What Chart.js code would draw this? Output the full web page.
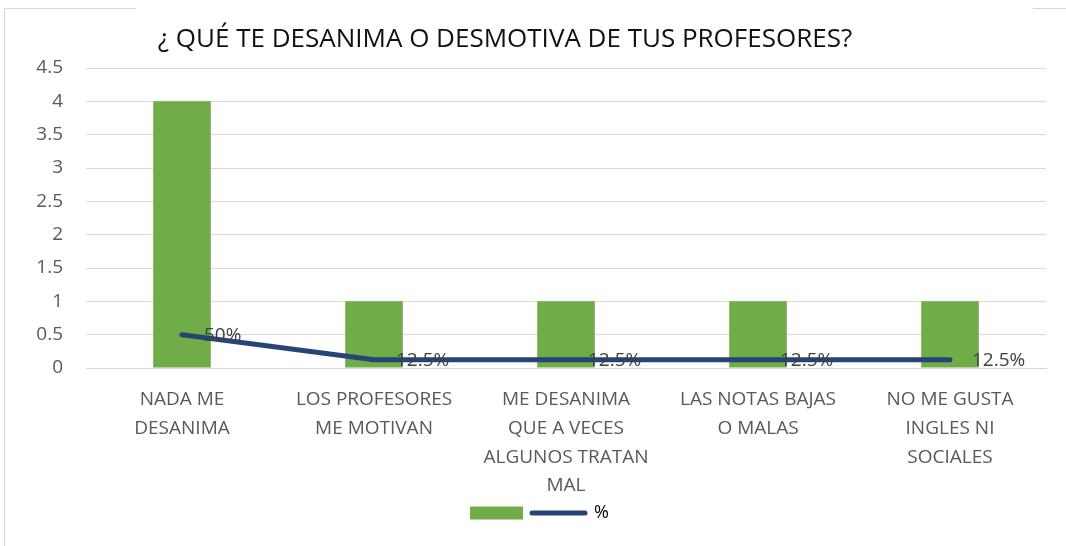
<!DOCTYPE html>
<html lang="es">
<head>
    <meta charset="UTF-8">
    <script src="https://cdn.jsdelivr.net/npm/chart.js"></script>
    <title>¿Qué te desanima?</title>
    <style>
        html, body {
            margin: 0;
            padding: 0;
            background: #fff;
        }
        .wrap {
            position: relative;
            width: 1066px;
            height: 546px;
            overflow: hidden;
        }
        .frame {
            position: absolute;
            left: 4px;
            top: 8px;
            width: 1100px;
            height: 600px;
            border-left: 1px solid #d9d9d9;
            border-top: 1px solid #d9d9d9;
        }
        .gap {
            position: absolute;
            left: 136px;
            top: 6px;
            width: 897px;
            height: 5px;
            background: #fff;
        }
        canvas {
            position: absolute;
            left: 0;
            top: 0;
        }
    </style>
</head>
<body>
    <div class="wrap">
        <div class="frame"></div>
        <div class="gap"></div>
        <canvas id="myChart" width="1066" height="546"></canvas>
    </div>

    <script>
        const chartTitle = '¿ QUÉ TE DESANIMA O DESMOTIVA DE TUS PROFESORES?';
        const categories = [
            ['NADA ME', 'DESANIMA'],
            ['LOS PROFESORES', 'ME MOTIVAN'],
            ['ME DESANIMA', 'QUE A VECES', 'ALGUNOS TRATAN', 'MAL'],
            ['LAS NOTAS BAJAS', 'O MALAS'],
            ['NO ME GUSTA', 'INGLES NI', 'SOCIALES']
        ];
        const counts = [4, 1, 1, 1, 1];
        const percents = [50, 12.5, 12.5, 12.5, 12.5];

        const labelFont = '"Liberation Sans Narrow", "Open Sans", sans-serif';

        // title drawn off-centre like the original
        const titlePlugin = {
            id: 'sheetTitle',
            afterDraw(chart) {
                const ctx = chart.ctx;
                ctx.save();
                ctx.font = '26px ' + labelFont;
                ctx.fillStyle = '#111';
                ctx.textAlign = 'center';
                ctx.textBaseline = 'middle';
                ctx.fillText(chartTitle, 505, 40);
                ctx.restore();
            }
        };

        // percent labels to the right of each line point
        const pctLabels = {
            id: 'pctLabels',
            afterDatasetsDraw(chart) {
                const ctx = chart.ctx;
                const meta = chart.getDatasetMeta(1);
                ctx.save();
                ctx.font = '19px ' + labelFont;
                ctx.fillStyle = '#404040';
                ctx.textAlign = 'left';
                ctx.textBaseline = 'middle';
                meta.data.forEach((pt, i) => {
                    ctx.fillText(percents[i] + '%', pt.x + 22, pt.y + 1);
                });
                ctx.restore();
            }
        };

        const ctx = document.getElementById('myChart').getContext('2d');
        new Chart(ctx, {
            data: {
                labels: categories,
                datasets: [{
                    type: 'bar',
                    label: '',
                    data: counts,
                    backgroundColor: '#70AD47',
                    barPercentage: 0.3,
                    categoryPercentage: 1,
                    order: 2
                }, {
                    type: 'line',
                    label: '%',
                    data: percents.map(p => p / 100),
                    borderColor: '#264478',
                    backgroundColor: '#264478',
                    borderWidth: 5,
                    pointRadius: 0,
                    borderCapStyle: 'round',
                    tension: 0,
                    order: 1
                }]
            },
            plugins: [titlePlugin, pctLabels],
            options: {
                responsive: false,
                animation: false,
                layout: {
                    padding: { top: 68, left: 33, right: 20, bottom: 20 }
                },
                plugins: {
                    title: { display: false },
                    tooltip: { enabled: false },
                    legend: {
                        position: 'bottom',
                        maxHeight: 22,
                        labels: {
                            usePointStyle: true,
                            pointStyleWidth: 53,
                            boxWidth: 53,
                            boxHeight: 13,
                            padding: 0,
                            color: '#595959',
                            font: { family: labelFont, size: 18 },
                            generateLabels(chart) {
                                return chart.data.datasets.map((ds, i) => ({
                                    text: ds.label,
                                    fillStyle: ds.backgroundColor,
                                    strokeStyle: ds.type === 'line' ? ds.borderColor : ds.backgroundColor,
                                    lineWidth: ds.type === 'line' ? 5 : 0,
                                    lineCap: 'round',
                                    pointStyle: ds.type === 'line' ? 'line' : 'rect',
                                    datasetIndex: i,
                                    hidden: false
                                }));
                            }
                        }
                    }
                },
                scales: {
                    x: {
                        grid: { display: false, drawTicks: false },
                        border: { color: '#d9d9d9' },
                        afterFit(scale) {
                            scale.height = 136;
                        },
                        ticks: {
                            color: '#595959',
                            padding: 17,
                            maxRotation: 0,
                            autoSkip: false,
                            font: { family: labelFont, size: 19, lineHeight: 1.52 }
                        }
                    },
                    y: {
                        min: 0,
                        max: 4.5,
                        border: { display: false },
                        grid: { color: '#d9d9d9', drawTicks: false },
                        afterFit(scale) {
                            scale.width = 53;
                        },
                        ticks: {
                            stepSize: 0.5,
                            color: '#595959',
                            padding: 23,
                            font: { family: labelFont, size: 19 },
                            callback: v => String(v)
                        }
                    }
                }
            }
        });
    </script>
</body>
</html>
